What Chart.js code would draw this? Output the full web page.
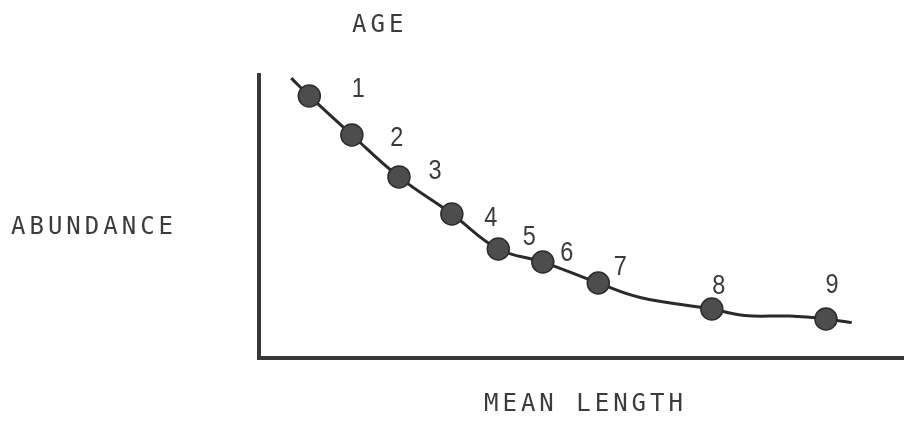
<!DOCTYPE html>
<html>
<head>
<meta charset="utf-8">
<script src="https://cdn.jsdelivr.net/npm/chart.js@4.4.1/dist/chart.umd.min.js"></script>
<style>
  html, body { margin: 0; padding: 0; background: #fff; }
</style>
</head>
<body>
<canvas id="ageChart" width="904" height="423"></canvas>
<script>
// age groups: mean length (x) vs abundance (y) (arbitrary units 0-100)
const ages = [1, 2, 3, 4, 5, 6, 7, 8, 9];
const meanLength = [7.8, 14.4, 21.7, 29.9, 37.1, 44.0, 52.6, 70.2, 87.9];
const abundance = [92.6, 78.8, 64.0, 50.9, 38.5, 33.9, 26.5, 17.3, 13.8];

// hand drawn curve through the points (starts above age 1, runs past age 9)
const curveLength = [5.0, 7.8, 14.4, 21.7, 29.9, 37.1, 44.0, 52.6, 59.1, 70.2, 75.3, 82.3, 87.9, 91.9];
const curveAbundance = [98.9, 92.6, 78.8, 64.0, 50.9, 38.5, 33.9, 26.5, 21.4, 17.3, 15.0, 14.8, 13.8, 12.5];

const xTitle = 'MEAN LENGTH';
const yTitle = 'ABUNDANCE';
const ageTitle = 'AGE';

// where each age number sits next to its dot (px)
const ageLabelShift = [[49, -7.5], [45, 2], [36, -7], [39, 3], [31, -13], [24, -10], [22, -17], [7, -24], [6, -34.5]];

const ink = '#383838';

// age numbers and the three captions
const figureText = {
    id: 'figureText',
    afterDatasetsDraw(chart) {
        const ctx = chart.ctx;
        const dots = chart.getDatasetMeta(0).data;
        ctx.save();
        ctx.fillStyle = '#3b3b3b';
        ctx.textBaseline = 'middle';
        ctx.textAlign = 'center';
        ctx.font = '28px "Liberation Sans", Arial, sans-serif';
        dots.forEach((pt, i) => {
            const [dx, dy] = ageLabelShift[i];
            // narrow the digits like the lettering stencil
            ctx.save();
            ctx.translate(pt.x + dx, pt.y + dy + 1);
            ctx.scale(0.84, 1);
            ctx.fillText(String(ages[i]), 0, 0);
            ctx.restore();
        });
        ctx.font = '24px "DejaVu Sans Mono", monospace';
        ctx.letterSpacing = '4px';
        ctx.textAlign = 'left';
        ctx.fillText(ageTitle, 352, 26);
        ctx.fillText(yTitle, 11, 228);
        ctx.fillText(xTitle, 484, 405);
        ctx.restore();
    }
};

const axisOpts = {
    type: 'linear',
    min: 0,
    max: 100,
    ticks: { display: false },
    grid: { display: false, drawTicks: false },
    border: { display: true, width: 4, color: ink }
};

new Chart(document.getElementById('ageChart'), {
    type: 'scatter',
    data: {
        datasets: [{
            label: ageTitle,
            data: meanLength.map((x, i) => ({ x: x, y: abundance[i] })),
            pointRadius: 11,
            pointBackgroundColor: '#4d4d4d',
            pointBorderColor: '#2c2c2c',
            pointBorderWidth: 1.5,
            showLine: false,
            clip: false
        }, {
            label: 'curve',
            data: curveLength.map((x, i) => ({ x: x, y: curveAbundance[i] })),
            showLine: true,
            pointRadius: 0,
            borderColor: '#2a2a2a',
            borderWidth: 3,
            tension: 0.4,
            clip: false
        }]
    },
    options: {
        responsive: false,
        animation: false,
        devicePixelRatio: 1,
        layout: { autoPadding: false, padding: { left: 259, top: 75, right: 0, bottom: 65 } },
        plugins: { legend: { display: false }, tooltip: { enabled: false } },
        scales: {
            x: Object.assign({}, axisOpts),
            y: Object.assign({}, axisOpts)
        }
    },
    plugins: [figureText]
});
</script>
</body>
</html>
